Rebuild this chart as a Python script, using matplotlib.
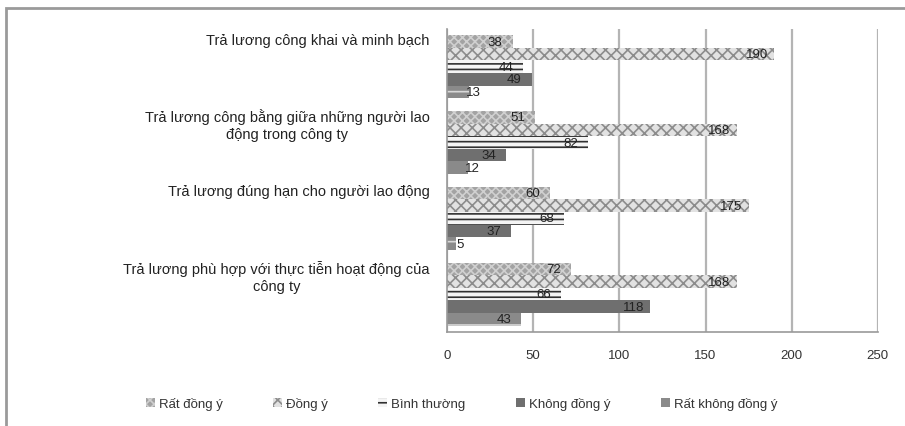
import numpy as np
import matplotlib.pyplot as plt
from matplotlib.patches import Rectangle

plt.rcParams['font.family'] = ['Liberation Sans', 'DejaVu Sans']
plt.rcParams['hatch.linewidth'] = 1.2

# categories, top to bottom
categories = [
    "Trả lương công khai và minh bạch",
    "Trả lương công bằng giữa những người lao\nđộng trong công ty",
    "Trả lương đúng hạn cho người lao động",
    "Trả lương phù hợp với thực tiễn hoạt động của\ncông ty",
]
series = ["Rất đồng ý", "Đồng ý", "Bình thường", "Không đồng ý", "Rất không đồng ý"]

rat_dong_y = [38, 51, 60, 72]
dong_y = [190, 168, 175, 168]
binh_thuong = [44, 82, 68, 66]
khong_dong_y = [49, 34, 37, 118]
rat_khong_dong_y = [13, 12, 5, 43]
values = [rat_dong_y, dong_y, binh_thuong, khong_dong_y, rat_khong_dong_y]

styles = [
    dict(facecolor='#a3a3a3', edgecolor='#d0d0d0', hatch='xxxx'),
    dict(facecolor='#e2e2e2', edgecolor='#8c8c8c', hatch='xxx'),
    dict(facecolor='#f4f4f4', edgecolor='#303030', hatch='---'),
    dict(facecolor='#6f6f6f', edgecolor='#6f6f6f', hatch=None),
    dict(facecolor='#8a8a8a', edgecolor='#d8d8d8', hatch='-'),
]

fig = plt.figure(figsize=(9.05, 4.27), dpi=100)
ax = fig.add_axes([0.494, 0.220, 0.476, 0.710])

n = len(series)
bh = 0.166
y0 = np.arange(len(categories))
for i, (name, vals, st) in enumerate(zip(series, values, styles)):
    ys = y0 - (n - 1) / 2 * bh + i * bh
    ax.barh(ys, vals, height=bh, linewidth=0, label=name, **st)
    for y, v in zip(ys, vals):
        if v >= 20:
            ax.text(v - 10, y, str(v), ha='center', va='center', fontsize=9.5, color='#222222')
        else:
            ax.text(v + 2.5, y, str(v), ha='center', va='center', fontsize=9.5, color='#222222')

ax.set_xlim(0, 250)
ax.set_ylim(len(categories) - 0.5, -0.5)
ax.set_xticks(np.arange(0, 251, 50))
ax.set_yticks([])
ax.tick_params(axis='x', length=0, pad=12, labelsize=9.5, labelcolor='#333333')
ax.grid(axis='x', color='#b4b4b4', linewidth=1.6)
ax.set_axisbelow(True)
for s in ['top', 'right']:
    ax.spines[s].set_visible(False)
ax.spines['left'].set_color('#999999')
ax.spines['bottom'].set_color('#999999')
ax.spines['left'].set_linewidth(1.2)
ax.spines['bottom'].set_linewidth(1.2)

# category labels placed near the top of each group
for y, lab in zip(y0, categories):
    ax.text(-10, y - 0.45, lab, ha='right', va='top', multialignment='center',
            fontsize=10.5, color='#222222', linespacing=1.25)

leg = fig.legend(loc='lower center', bbox_to_anchor=(0.51, 0.01), ncol=5,
                 frameon=False, fontsize=9.5, handlelength=0.7, handleheight=0.7,
                 columnspacing=3.8, handletextpad=0.3)
for t in leg.get_texts():
    t.set_color('#333333')

fig.patches.append(Rectangle((6 / 905, -0.01), 1.0, 1 - 9 / 427 + 0.01,
                             transform=fig.transFigure, fill=False,
                             edgecolor='#9a9a9a', linewidth=2.0))

fig.savefig('out.png', dpi=100)
